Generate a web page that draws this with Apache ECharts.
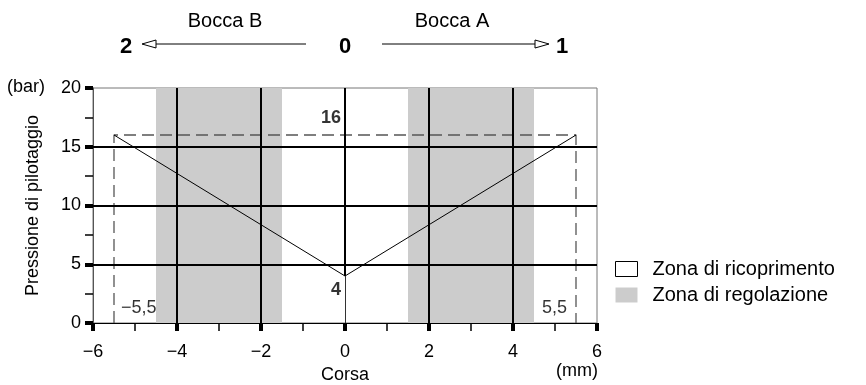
<!DOCTYPE html>
<html><head><meta charset="utf-8">
<script src="https://cdn.jsdelivr.net/npm/echarts@6/dist/echarts.min.js"></script>
<style>html,body{margin:0;padding:0;background:#fff}#c{width:866px;height:385px}</style>
</head><body><div id="c"></div>
<script>
// ---- data ----
var xTicks = [-6, -4, -2, 0, 2, 4, 6];
var yTicks = [0, 5, 10, 15, 20];
var regBands = [[-4.5, -1.5], [1.5, 4.5]];      // Zona di regolazione
var vGrid = [-4, -2, 2, 4];                      // vertical grid lines
var hGrid = [5, 10, 15];                         // horizontal grid lines
var vShapeX = [-5.5, 0, 5.5];
var vShapeY = [16, 4, 16];
var envX = [-5.5, -5.5, 5.5, 5.5];               // dashed envelope
var envY = [0, 16, 16, 0];
var peakLabel = 16, minLabel = 4, strokeLimit = 5.5;

var F = 'Liberation Sans, Arial, Helvetica, sans-serif';
var FS = 18;
var chart = echarts.init(document.getElementById('c'));

var vLines = vGrid.map(function (x) { return [{coord: [x, 0]}, {coord: [x, 20]}]; });
vLines.push([{coord: [0, minLabel]}, {coord: [0, 20]}]);
var hLines = hGrid.map(function (y) { return [{coord: [-6, y]}, {coord: [6, y]}]; });

var option = {
  animation: false,
  grid: {left: 93, right: 269, top: 88, bottom: 62, show: true, borderColor: '#777', borderWidth: 1,
    containLabel: false, outerBoundsMode: 'none'},
  xAxis: {
    type: 'value', min: -6, max: 6, interval: 2,
    axisLine: {show: true, onZero: false, lineStyle: {color: '#000', width: 1}},
    axisTick: {show: true, length: 8, lineStyle: {color: '#000', width: 4}},
    minorTick: {show: true, splitNumber: 2, length: 8, lineStyle: {color: '#000', width: 1.5}},
    splitLine: {show: false},
    axisLabel: {color: '#000', fontFamily: F, fontSize: FS, margin: 20,
      formatter: function (v) { return String(v).replace('-', '\u2212'); }},
    name: 'Corsa', nameLocation: 'middle', nameGap: 42,
    nameTextStyle: {color: '#000', fontFamily: F, fontSize: FS}
  },
  yAxis: {
    type: 'value', min: 0, max: 20, interval: 5,
    axisLine: {show: true, onZero: false, lineStyle: {color: '#555', width: 1}},
    axisTick: {show: true, length: 8, lineStyle: {color: '#000', width: 4}},
    minorTick: {show: true, splitNumber: 2, length: 8, lineStyle: {color: '#000', width: 1.5}},
    splitLine: {show: false},
    axisLabel: {color: '#000', fontFamily: F, fontSize: FS, margin: 12},
    name: 'Pressione di pilotaggio', nameLocation: 'middle', nameGap: 51, nameRotate: 90,
    nameTextStyle: {color: '#000', fontFamily: F, fontSize: FS}
  },
  legend: {
    orient: 'vertical', left: 610, top: 254, itemWidth: 22, itemHeight: 15, itemGap: 6,
    icon: 'rect', selectedMode: false,
    textStyle: {color: '#000', fontFamily: F, fontSize: 20, padding: [0, 0, 0, 10]},
    data: [
      {name: 'Zona di ricoprimento', itemStyle: {color: '#fff', borderColor: '#000', borderWidth: 1}},
      {name: 'Zona di regolazione', itemStyle: {color: '#cccccc', borderWidth: 0}}
    ]
  },
  series: [
    {
      name: 'Zona di regolazione', type: 'line', data: [], z: 1,
      itemStyle: {color: '#cccccc'}, lineStyle: {width: 0},
      markArea: {silent: true, itemStyle: {color: '#cccccc'},
        data: regBands.map(function (b) { return [{xAxis: b[0]}, {xAxis: b[1]}]; })}
    },
    {
      name: 'Zona di ricoprimento', type: 'line', data: [], z: 1,
      itemStyle: {color: '#fff', borderColor: '#000', borderWidth: 1}, lineStyle: {width: 0}
    },
    {
      name: 'grid', type: 'line', data: [], z: 2,
      markLine: {silent: true, symbol: 'none', animation: false,
        lineStyle: {color: '#000', width: 2, type: 'solid'},
        label: {show: false},
        data: vLines.concat(hLines)}
    },
    {
      name: 'base0', type: 'line', data: [], z: 2,
      markLine: {silent: true, symbol: 'none', lineStyle: {color: '#333', width: 1, type: 'solid'},
        label: {show: false}, data: [[{coord: [0, 0]}, {coord: [0, minLabel]}]]}
    },
    {
      name: 'envelope', type: 'line', z: 3, symbol: 'none',
      lineStyle: {color: '#555', width: 1.3, type: [12, 6]},
      data: envX.map(function (x, i) { return [x, envY[i]]; })
    },
    {
      name: 'V', type: 'line', z: 4, symbol: 'none',
      lineStyle: {color: '#000', width: 1},
      data: vShapeX.map(function (x, i) { return [x, vShapeY[i]]; })
    },
    {
      name: 'labels', type: 'scatter', z: 5, symbolSize: 0,
      data: [
        {value: [0, peakLabel], label: {show: true, position: [-24, -26], formatter: String(peakLabel), fontWeight: 'bold'}},
        {value: [0, minLabel], label: {show: true, position: [-14, 5], formatter: String(minLabel), fontWeight: 'bold'}},
        {value: [-strokeLimit, 0], label: {show: true, position: [7, -24], formatter: '\u2212' + String(strokeLimit).replace('.', ',')}},
        {value: [strokeLimit, 0], label: {show: true, position: [-34, -24], formatter: String(strokeLimit).replace('.', ',')}}
      ],
      label: {color: '#000', fontFamily: F, fontSize: FS}
    }
  ],
  graphic: [
    {type: 'text', left: 7, top: 78, style: {text: '(bar)', font: FS + 'px ' + F, fill: '#000'}},
    {type: 'text', left: 556, top: 362, style: {text: '(mm)', font: FS + 'px ' + F, fill: '#000'}},
    {type: 'text', x: 225, y: 21, style: {text: 'Bocca B', font: '20px ' + F, fill: '#000', align: 'center', verticalAlign: 'middle'}},
    {type: 'text', x: 452, y: 21, style: {text: 'Bocca A', font: '20px ' + F, fill: '#000', align: 'center', verticalAlign: 'middle'}},
    {type: 'text', x: 126, y: 47, style: {text: '2', font: 'bold 22px ' + F, fill: '#000', align: 'center', verticalAlign: 'middle'}},
    {type: 'text', x: 345, y: 47, style: {text: '0', font: 'bold 22px ' + F, fill: '#000', align: 'center', verticalAlign: 'middle'}},
    {type: 'text', x: 562, y: 47, style: {text: '1', font: 'bold 22px ' + F, fill: '#000', align: 'center', verticalAlign: 'middle'}},
    {type: 'line', shape: {x1: 306, y1: 44, x2: 150, y2: 44}, style: {stroke: '#000', lineWidth: 1}},
    {type: 'polygon', shape: {points: [[142, 44], [156, 40], [156, 48]]}, style: {fill: '#fff', stroke: '#000', lineWidth: 1}},
    {type: 'line', shape: {x1: 382, y1: 44, x2: 540, y2: 44}, style: {stroke: '#000', lineWidth: 1}},
    {type: 'polygon', shape: {points: [[549, 44], [535, 40], [535, 48]]}, style: {fill: '#fff', stroke: '#000', lineWidth: 1}}
  ]
};
chart.setOption(option);
</script></body></html>
